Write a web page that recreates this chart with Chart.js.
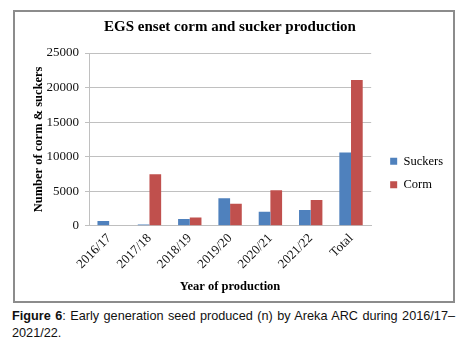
<!DOCTYPE html>
<html><head><meta charset="utf-8">
<script src="https://cdn.jsdelivr.net/npm/chart.js@4"></script>
<style>
html,body{margin:0;padding:0;background:#fff;}
#box{position:absolute;left:13px;top:10px;width:438px;height:289px;border:2px solid #8c8c8c;}
#box canvas{display:block;}
#cap{position:absolute;left:12px;top:308px;width:443px;font-family:"Liberation Sans",Arial,sans-serif;font-size:12.7px;line-height:16.5px;text-align:justify;color:#111;}
</style></head><body>
<div id="box"><canvas id="c" width="438" height="289"></canvas></div>
<div id="cap"><b>Figure 6</b>: Early generation seed produced (n) by Areka ARC during 2016/17–2021/22.</div>
<script>
const categories = ["2016/17","2017/18","2018/19","2019/20","2020/21","2021/22","Total"];
const suckers = [700, 200, 1000, 4000, 2050, 2300, 10600];
const corm = [0, 7450, 1200, 3200, 5150, 3750, 21100];
const yTicks = [0, 5000, 10000, 15000, 20000, 25000];

const serif = "'Liberation Serif','Times New Roman',serif";
const legendShift = {
  id: 'legendShift',
  afterLayout(chart) {
    const l = chart.legend;
    l.top += 20; l.bottom += 20;
    l.left += 8; l.right += 8;
  }
};
new Chart(document.getElementById('c'), {
  type: 'bar',
  data: {
    labels: categories,
    datasets: [
      {label: 'Suckers', data: suckers, backgroundColor: '#4F81BD', borderWidth: 0},
      {label: 'Corm', data: corm, backgroundColor: '#C0504D', borderWidth: 0}
    ]
  },
  plugins: [legendShift],
  options: {
    responsive: false,
    animation: false,
    devicePixelRatio: 1,
    layout: {padding: {left: 0, right: 8, top: 0, bottom: 7}},
    datasets: {bar: {barPercentage: 1, categoryPercentage: 0.58}},
    plugins: {
      title: {display: true, text: 'EGS enset corm and sucker production', color: '#000',
        font: {family: serif, size: 15, weight: 'bold'}, padding: {top: 6, bottom: 17}},
      legend: {position: 'right', align: 'center',
        labels: {color: '#000', boxWidth: 7, boxHeight: 7, padding: 11, font: {family: serif, size: 12.5}}},
      tooltip: {enabled: false}
    },
    scales: {
      x: {
        grid: {display: false, drawTicks: false},
        border: {color: '#bfbfbf'},
        ticks: {color: '#111', minRotation: 45, maxRotation: 45, padding: 5, font: {family: serif, size: 13}},
        title: {display: true, text: 'Year of production', color: '#000', font: {family: serif, size: 12.5, weight: 'bold'}, padding: {top: 2, bottom: 0}}
      },
      y: {
        min: 0, max: 25000,
        afterBuildTicks: (s) => { s.ticks = yTicks.map(v => ({value: v})); },
        afterFit: (s) => { s.width = 74; },
        grid: {color: '#c0c0c0', tickLength: 4},
        border: {color: '#c0c0c0'},
        ticks: {color: '#111', padding: 6, font: {family: serif, size: 13}, callback: (v) => String(v)},
        title: {display: true, text: 'Number of corm & suckers', color: '#000', font: {family: serif, size: 12.5, weight: 'bold'}, padding: {top: 16, bottom: 4}}
      }
    }
  }
});
</script>
</body></html>
